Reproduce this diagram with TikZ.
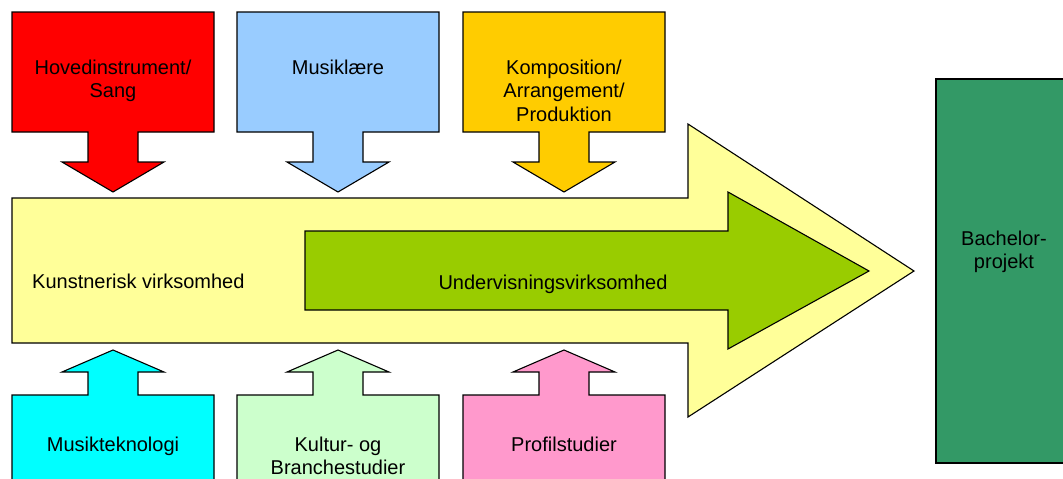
\documentclass[tikz,border=0pt]{standalone}
\usepackage{fontspec}
\setmainfont{Liberation Sans}
\definecolor{hovedred}{HTML}{FF0000}
\definecolor{laereblue}{HTML}{99CCFF}
\definecolor{kompgold}{HTML}{FFCC00}
\definecolor{kunstyellow}{HTML}{FFFF99}
\definecolor{undervgreen}{HTML}{99CC00}
\definecolor{teknocyan}{HTML}{00FFFF}
\definecolor{kulturgreen}{HTML}{CCFFCC}
\definecolor{profilpink}{HTML}{FF99CC}
\definecolor{bachgreen}{HTML}{339966}
\tikzset{
    block/.style={draw=black,line width=1.1pt,line join=miter},
    blocktext/.style={font=\fontsize{20}{23.8}\selectfont,align=center,inner sep=0pt},
    toptext/.style={blocktext,anchor=north},
    bodytext/.style={blocktext,anchor=base}
}
\begin{document}
\begin{tikzpicture}[x=1pt,y=-1pt]
\clip (0,0) rectangle (1063,479);
% big arrow and inner arrow
\draw[block,fill=kunstyellow] (12,198)--(688,198)--(688,124)--(914,271)--(688,417)--(688,343)--(12,343)--cycle;
\draw[block,fill=undervgreen] (305,231)--(728,231)--(728,192)--(869,271)--(728,349)--(728,310)--(305,310)--cycle;
\node[bodytext,anchor=base west] (kunst) at (32,288) {Kunstnerisk virksomhed};
\node[bodytext] (underv) at (553,289) {Undervisningsvirksomhed};
% top blocks
\draw[block,fill=hovedred] (12,12)--(214,12)--(214,132)--(138,132)--(138,162)--(164,162)--(113,192)--(62,162)--(88,162)--(88,132)--(12,132)--cycle;
\draw[block,fill=laereblue] (237,12)--(439,12)--(439,132)--(363,132)--(363,162)--(389,162)--(338,192)--(287,162)--(313,162)--(313,132)--(237,132)--cycle;
\draw[block,fill=kompgold] (463,12)--(665,12)--(665,132)--(589,132)--(589,162)--(615,162)--(564,192)--(513,162)--(539,162)--(539,132)--(463,132)--cycle;
\node[toptext] (hoved) at (113,59.5) {Hovedinstrument/\\Sang};
\node[toptext] (laere) at (338,59.5) {Musiklære};
\node[toptext] (komp) at (564,59.5) {Komposition/\\Arrangement/\\Produktion};
% bottom blocks
\draw[block,fill=teknocyan] (12,490)--(12,395)--(88,395)--(88,372)--(62,372)--(113,350)--(164,372)--(138,372)--(138,395)--(214,395)--(214,490);
\draw[block,fill=kulturgreen] (237,490)--(237,395)--(313,395)--(313,372)--(287,372)--(338,350)--(389,372)--(363,372)--(363,395)--(439,395)--(439,490);
\draw[block,fill=profilpink] (463,490)--(463,395)--(539,395)--(539,372)--(513,372)--(564,350)--(615,372)--(589,372)--(589,395)--(665,395)--(665,490);
\node[toptext] (tekno) at (113,436.5) {Musikteknologi};
\node[toptext] (kultur) at (338,436.5) {Kultur- og\\Branchestudier};
\node[toptext] (profil) at (564,436.5) {Profilstudier};
% bachelor
\draw[block,fill=bachgreen] (936,79) rectangle (1075,463);
\node[toptext] (bachelor) at (1004,230.5) {Bachelor-\\projekt};
\end{tikzpicture}
\end{document}
